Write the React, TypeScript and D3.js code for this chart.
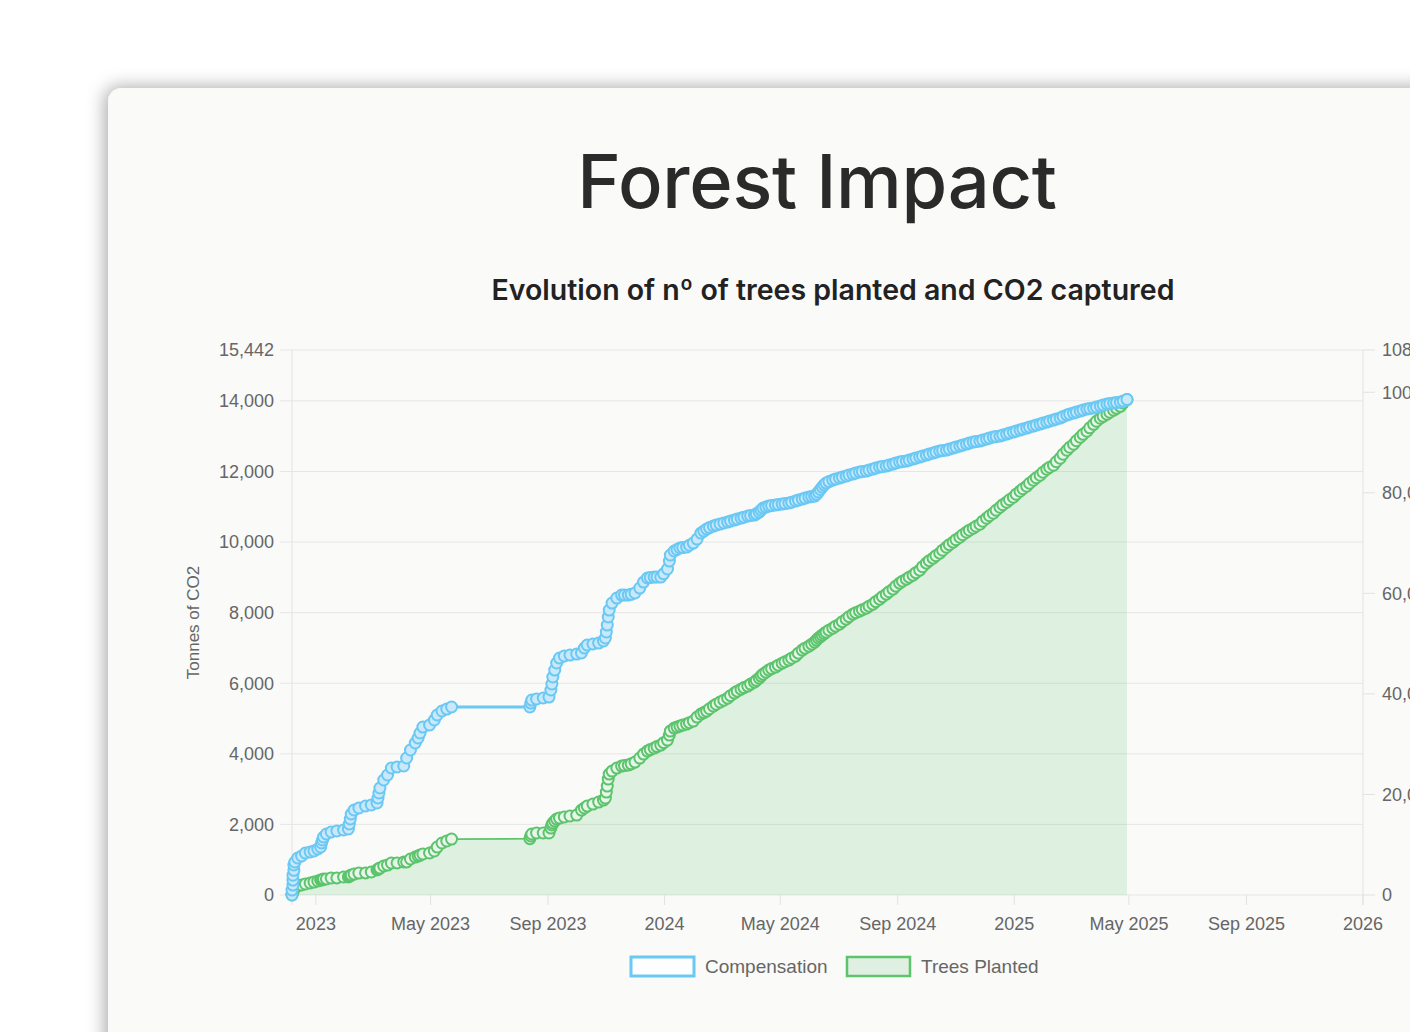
import React, { useEffect, useRef } from 'react';
import * as d3 from 'd3';

// one entry per record, shared by both series (one line per month)
const dates = [
    '2022-12-07', '2022-12-07', '2022-12-08', '2022-12-08', '2022-12-08', '2022-12-09', '2022-12-09', '2022-12-10', '2022-12-13', '2022-12-17', '2022-12-21', '2022-12-26', '2022-12-30',
    '2023-01-03', '2023-01-06', '2023-01-07', '2023-01-08', '2023-01-09', '2023-01-12', '2023-01-17', '2023-01-23', '2023-01-30',
    '2023-02-04', '2023-02-05', '2023-02-06', '2023-02-07', '2023-02-10', '2023-02-15', '2023-02-22', '2023-02-28',
    '2023-03-06', '2023-03-07', '2023-03-08', '2023-03-09', '2023-03-13', '2023-03-17', '2023-03-21', '2023-03-27',
    '2023-04-03', '2023-04-06', '2023-04-10', '2023-04-15', '2023-04-18', '2023-04-20', '2023-04-23', '2023-04-30',
    '2023-05-05', '2023-05-08', '2023-05-13', '2023-05-18', '2023-05-23',
    '2023-08-13', '2023-08-14', '2023-08-15', '2023-08-20', '2023-08-27',
    '2023-09-02', '2023-09-04', '2023-09-05', '2023-09-06', '2023-09-08', '2023-09-10', '2023-09-13', '2023-09-18', '2023-09-24',
    '2023-10-01', '2023-10-06', '2023-10-09', '2023-10-12', '2023-10-18', '2023-10-24', '2023-10-29', '2023-10-31',
    '2023-11-01', '2023-11-02', '2023-11-03', '2023-11-04', '2023-11-07', '2023-11-12', '2023-11-17', '2023-11-20', '2023-11-24', '2023-11-27',
    '2023-12-01', '2023-12-06', '2023-12-10', '2023-12-14', '2023-12-17', '2023-12-21', '2023-12-24', '2023-12-28', '2023-12-31',
    '2024-01-04', '2024-01-06', '2024-01-07', '2024-01-11', '2024-01-14', '2024-01-17', '2024-01-20', '2024-01-24', '2024-01-27', '2024-01-31',
    '2024-02-04', '2024-02-08', '2024-02-11', '2024-02-14', '2024-02-17', '2024-02-21', '2024-02-24', '2024-02-28',
    '2024-03-03', '2024-03-07', '2024-03-10', '2024-03-14', '2024-03-17', '2024-03-21', '2024-03-24', '2024-03-28', '2024-03-31',
    '2024-04-04', '2024-04-06', '2024-04-09', '2024-04-11', '2024-04-13', '2024-04-16', '2024-04-19', '2024-04-22', '2024-04-26', '2024-04-29',
    '2024-05-03', '2024-05-06', '2024-05-10', '2024-05-13', '2024-05-17', '2024-05-20', '2024-05-24', '2024-05-27', '2024-05-31',
    '2024-06-03', '2024-06-06', '2024-06-08', '2024-06-10', '2024-06-12', '2024-06-14', '2024-06-16', '2024-06-18', '2024-06-21', '2024-06-25', '2024-06-28',
    '2024-07-02', '2024-07-05', '2024-07-09', '2024-07-12', '2024-07-16', '2024-07-19', '2024-07-23', '2024-07-26', '2024-07-30',
    '2024-08-02', '2024-08-06', '2024-08-09', '2024-08-13', '2024-08-16', '2024-08-20', '2024-08-23', '2024-08-27', '2024-08-30',
    '2024-09-03', '2024-09-06', '2024-09-10', '2024-09-13', '2024-09-17', '2024-09-20', '2024-09-24', '2024-09-27',
    '2024-10-01', '2024-10-04', '2024-10-08', '2024-10-11', '2024-10-15', '2024-10-18', '2024-10-22', '2024-10-25', '2024-10-29',
    '2024-11-01', '2024-11-05', '2024-11-08', '2024-11-12', '2024-11-15', '2024-11-19', '2024-11-22', '2024-11-26', '2024-11-29',
    '2024-12-03', '2024-12-06', '2024-12-10', '2024-12-13', '2024-12-17', '2024-12-20', '2024-12-24', '2024-12-27', '2024-12-31',
    '2025-01-03', '2025-01-07', '2025-01-10', '2025-01-14', '2025-01-17', '2025-01-21', '2025-01-24', '2025-01-28', '2025-01-31',
    '2025-02-04', '2025-02-07', '2025-02-11', '2025-02-14', '2025-02-18', '2025-02-21', '2025-02-25', '2025-02-28',
    '2025-03-04', '2025-03-07', '2025-03-11', '2025-03-14', '2025-03-18', '2025-03-21', '2025-03-25', '2025-03-28',
    '2025-04-01', '2025-04-04', '2025-04-08', '2025-04-11', '2025-04-15', '2025-04-18', '2025-04-22', '2025-04-25', '2025-04-29',
];

// tonnes of CO2 compensated (left axis)
const compensation = [
    0, 140, 280, 420, 560, 700, 850, 935, 1048, 1105, 1190, 1218, 1247,
    1303, 1360, 1473, 1558, 1643, 1728, 1785, 1813, 1841,
    1870, 2011, 2153, 2295, 2408, 2465, 2521, 2550,
    2606, 2748, 2890, 3031, 3258, 3400, 3598, 3626,
    3655, 3881, 4108, 4306, 4448, 4590, 4759, 4816,
    4958, 5100, 5213, 5269, 5326,
    5326, 5439, 5524, 5553, 5581,
    5609, 5808, 5978, 6176, 6374, 6573, 6714, 6771, 6799,
    6827, 6856, 6998, 7083, 7111, 7139, 7196, 7281,
    7451, 7649, 7876, 8074, 8272, 8414, 8499, 8499, 8499, 8520,
    8556, 8697, 8867, 8981, 8995, 9009, 9009, 9009, 9100,
    9236, 9462, 9632, 9746, 9790, 9831, 9845, 9859, 9910, 9972,
    10085, 10255, 10310, 10369, 10410, 10454, 10480, 10510,
    10540, 10567, 10595, 10624, 10650, 10680, 10705, 10737, 10750,
    10765, 10800, 10850, 10905, 10964, 10990, 11020, 11035, 11049, 11062,
    11077, 11090, 11105, 11130, 11162, 11190, 11219, 11245, 11275,
    11290, 11303, 11350, 11417, 11490, 11559, 11620, 11672, 11715, 11757, 11785,
    11814, 11840, 11870, 11900, 11927, 11955, 11984, 11998, 12012,
    12040, 12069, 12097, 12125, 12140, 12154, 12182, 12210, 12238,
    12267, 12281, 12295, 12323, 12352, 12380, 12409, 12437,
    12465, 12493, 12522, 12550, 12579, 12593, 12607, 12635, 12664,
    12692, 12720, 12748, 12777, 12805, 12834, 12848, 12862, 12890,
    12919, 12947, 12975, 12990, 13004, 13032, 13060, 13088, 13117,
    13145, 13173, 13201, 13230, 13258, 13287, 13315, 13343, 13371,
    13400, 13428, 13457, 13485, 13513, 13555, 13598, 13626,
    13655, 13683, 13712, 13740, 13768, 13782, 13797, 13825,
    13853, 13881, 13910, 13924, 13938, 13952, 13966, 13995, 14038,
];

// number of trees planted (right axis)
const treesPlanted = [
    0, 250, 500, 750, 1000, 1200, 1400, 1600, 1790, 1990, 2190, 2390, 2580,
    2780, 2980, 3000, 3020, 3180, 3200, 3380, 3400, 3580,
    3600, 3780, 3800, 3980, 4170, 4370, 4400, 4570,
    4970, 5170, 5200, 5370, 5770, 5960, 6360, 6380,
    6560, 6580, 7160, 7550, 7750, 7950, 8150, 8350,
    8750, 9540, 10340, 10740, 11130,
    11200, 11730, 12130, 12330, 12330,
    12330, 13320, 13920, 14310, 14710, 15110, 15310, 15510, 15710,
    15900, 16900, 17300, 17690, 18090, 18490, 18890, 19280,
    20480, 21670, 23060, 24050, 24650, 25250, 25650, 25740, 25840, 26100,
    26440, 27240, 28030, 28630, 28920, 29220, 29520, 29820, 30300,
    30810, 31810, 32600, 33200, 33400, 33600, 33800, 33990, 34280, 34590,
    35390, 35980, 36280, 36580, 37050, 37570, 37950, 38370,
    38750, 39160, 39650, 40160, 40550, 40950, 41250, 41550, 41950,
    42340, 42700, 43140, 43550, 43930, 44330, 44730, 45030, 45330, 45720,
    46120, 46400, 46720, 47100, 47510, 48100, 48710, 49100, 49500,
    49900, 50300, 50700, 51090, 51400, 51690, 52000, 52280, 52680, 53080, 53480,
    53870, 54370, 54870, 55370, 55860, 56160, 56460, 56760, 57060,
    57450, 57850, 58350, 58840, 59340, 59840, 60330, 60830, 61430,
    62030, 62420, 62820, 63220, 63620, 64110, 64610, 65300,
    66000, 66500, 67000, 67490, 67990, 68580, 69180, 69680, 70180,
    70670, 71170, 71660, 72160, 72560, 72960, 73350, 73750, 74350,
    74950, 75440, 75940, 76530, 77130, 77630, 78130, 78620, 79120,
    79720, 80320, 80810, 81310, 81900, 82500, 83000, 83500, 84090,
    84690, 85080, 85480, 86180, 86880, 87670, 88470, 89060,
    89660, 90350, 91050, 91640, 92240, 92930, 93630, 94230,
    94830, 95220, 95620, 96020, 96420, 96810, 97210, 97850, 98550,
];

const seriesNames = ['Compensation', 'Trees Planted'];
const axisEnd = '2026-01-01';

const BLUE = '#6ac8f4';
const GREEN = '#5cc46c';
const TICK_FONT = '"Liberation Sans", Arial, sans-serif';

const App: React.FC = () => {
    const ref = useRef<SVGSVGElement>(null);
    const width = 1410;
    const height = 1032;

    useEffect(() => {
        drawChart();
        // eslint-disable-next-line
    }, []);

    const drawChart = () => {
        const svg = d3.select(ref.current);
        svg.selectAll('*').remove();

        const left = 292, right = 1363, top = 350, bottom = 895;
        const parse = d3.timeParse('%Y-%m-%d');
        const days = dates.map((d) => parse(d) as Date);

        // both axes leave 10% head room above the last value
        const maxCo2 = d3.max(compensation)! * 1.1;
        const maxTrees = d3.max(treesPlanted)! * 1.1;

        const x = d3.scaleTime()
            .domain([days[0], parse(axisEnd) as Date])
            .range([left, right]);
        const yLeft = d3.scaleLinear().domain([0, maxCo2]).range([bottom, top]);
        const yRight = d3.scaleLinear().domain([0, maxTrees]).range([bottom, top]);

        // card with soft shadow
        const defs = svg.append('defs');
        defs.append('filter')
            .attr('id', 'cardShadow')
            .attr('x', '-10%').attr('y', '-10%')
            .attr('width', '120%').attr('height', '120%')
            .append('feDropShadow')
            .attr('dx', -3).attr('dy', -1)
            .attr('stdDeviation', 9)
            .attr('flood-color', '#000')
            .attr('flood-opacity', 0.34);

        svg.append('rect')
            .attr('width', width).attr('height', height)
            .attr('fill', '#ffffff');

        svg.append('rect')
            .attr('x', 108).attr('y', 88)
            .attr('width', 1400).attr('height', 1050)
            .attr('rx', 14)
            .attr('fill', '#fafaf9')
            .attr('filter', 'url(#cardShadow)');

        svg.append('text')
            .attr('x', 817).attr('y', 208)
            .attr('text-anchor', 'middle')
            .attr('font-family', 'Inter, sans-serif')
            .attr('font-size', 74)
            .attr('font-weight', 500)
            .attr('letter-spacing', -0.3)
            .attr('fill', '#2a2a2a')
            .text('Forest Impact');

        svg.append('text')
            .attr('x', 833).attr('y', 300)
            .attr('text-anchor', 'middle')
            .attr('font-family', 'Inter, sans-serif')
            .attr('font-size', 28.5)
            .attr('font-weight', 600)
            .attr('fill', '#222')
            .text('Evolution of nº of trees planted and CO2 captured');

        // horizontal grid follows the left axis
        const leftTicks = d3.range(0, maxCo2, 2000).concat([maxCo2]);
        const rightTicks = d3.range(0, maxTrees, 20000).concat([maxTrees]);
        const fmt = d3.format(',.0f');

        const grid = svg.append('g');
        grid.selectAll('line')
            .data(leftTicks)
            .enter()
            .append('line')
            .attr('x1', left - 12).attr('x2', right)
            .attr('y1', (d) => yLeft(d)).attr('y2', (d) => yLeft(d))
            .attr('stroke', '#e6e6e6')
            .attr('stroke-width', 1);

        grid.append('line')
            .attr('x1', left).attr('x2', left)
            .attr('y1', top).attr('y2', bottom + 10)
            .attr('stroke', '#e2e2e2');
        grid.append('line')
            .attr('x1', right).attr('x2', right)
            .attr('y1', top).attr('y2', bottom + 10)
            .attr('stroke', '#e2e2e2');

        grid.selectAll('.rtick')
            .data(rightTicks)
            .enter()
            .append('line')
            .attr('class', 'rtick')
            .attr('x1', right).attr('x2', right + 12)
            .attr('y1', (d) => yRight(d)).attr('y2', (d) => yRight(d))
            .attr('stroke', '#e2e2e2');

        const xTicks = x.ticks(d3.timeMonth.every(4)!).filter((d) => d >= days[0]);
        grid.selectAll('.xtick')
            .data(xTicks)
            .enter()
            .append('line')
            .attr('class', 'xtick')
            .attr('x1', (d) => x(d)).attr('x2', (d) => x(d))
            .attr('y1', bottom).attr('y2', bottom + 10)
            .attr('stroke', '#e2e2e2');

        const labels = svg.append('g')
            .attr('font-family', TICK_FONT)
            .attr('font-size', 18)
            .attr('fill', '#666');

        labels.selectAll('.ly')
            .data(leftTicks)
            .enter()
            .append('text')
            .attr('x', left - 18)
            .attr('y', (d) => yLeft(d))
            .attr('dy', '0.35em')
            .attr('text-anchor', 'end')
            .text((d) => fmt(d));

        labels.selectAll('.ry')
            .data(rightTicks)
            .enter()
            .append('text')
            .attr('x', right + 19)
            .attr('y', (d) => yRight(d))
            .attr('dy', '0.35em')
            .text((d) => fmt(d));

        const monthFmt = d3.timeFormat('%b %Y');
        const yearFmt = d3.timeFormat('%Y');
        labels.selectAll('.lx')
            .data(xTicks)
            .enter()
            .append('text')
            .attr('x', (d) => x(d))
            .attr('y', bottom + 35)
            .attr('text-anchor', 'middle')
            .text((d) => (d.getMonth() === 0 ? yearFmt(d) : monthFmt(d)));

        labels.append('text')
            .attr('transform', `translate(199, ${(top + bottom) / 2}) rotate(-90)`)
            .attr('text-anchor', 'middle')
            .attr('font-size', 17)
            .text('Tonnes of CO2');

        // trees planted: filled area on the right axis
        const area = d3.area<number>()
            .x((d, i) => x(days[i]))
            .y0(yRight(0))
            .y1((d) => yRight(d));
        const treeLine = d3.line<number>()
            .x((d, i) => x(days[i]))
            .y((d) => yRight(d));

        const trees = svg.append('g');
        trees.append('path')
            .attr('d', area(treesPlanted))
            .attr('fill', 'rgba(92, 196, 108, 0.18)');
        trees.append('path')
            .attr('d', treeLine(treesPlanted))
            .attr('fill', 'none')
            .attr('stroke', GREEN)
            .attr('stroke-width', 1.8);
        trees.selectAll('circle')
            .data(treesPlanted)
            .enter()
            .append('circle')
            .attr('cx', (d, i) => x(days[i]))
            .attr('cy', (d) => yRight(d))
            .attr('r', 5.5)
            .attr('fill', '#e8f5ea')
            .attr('stroke', GREEN)
            .attr('stroke-width', 2);

        // compensation drawn on top
        const co2Line = d3.line<number>()
            .x((d, i) => x(days[i]))
            .y((d) => yLeft(d));
        const co2 = svg.append('g');
        co2.append('path')
            .attr('d', co2Line(compensation))
            .attr('fill', 'none')
            .attr('stroke', BLUE)
            .attr('stroke-width', 3);
        co2.selectAll('circle')
            .data(compensation)
            .enter()
            .append('circle')
            .attr('cx', (d, i) => x(days[i]))
            .attr('cy', (d) => yLeft(d))
            .attr('r', 5.5)
            .attr('fill', '#c9e9fa')
            .attr('stroke', BLUE)
            .attr('stroke-width', 2);

        // legend
        const legendItems = [
            { name: seriesNames[0], x: 631, stroke: BLUE, fill: '#fdfeff', sw: 3 },
            { name: seriesNames[1], x: 847, stroke: GREEN, fill: '#dff0e2', sw: 2.5 },
        ];
        const legend = svg.append('g')
            .selectAll('.legend')
            .data(legendItems)
            .enter()
            .append('g')
            .attr('class', 'legend')
            .attr('transform', (d) => `translate(${d.x}, 957)`);

        legend.append('rect')
            .attr('width', 63)
            .attr('height', 19)
            .attr('fill', (d) => d.fill)
            .attr('stroke', (d) => d.stroke)
            .attr('stroke-width', (d) => d.sw);

        legend.append('text')
            .attr('x', 74)
            .attr('y', 16)
            .attr('font-family', TICK_FONT)
            .attr('font-size', 19)
            .attr('fill', '#666')
            .text((d) => d.name);
    };

    return (
        <svg ref={ref} width={width} height={height}
            style={{ position: 'absolute', left: 0, top: 0, display: 'block' }}>
        </svg>
    );
};

export default App;
